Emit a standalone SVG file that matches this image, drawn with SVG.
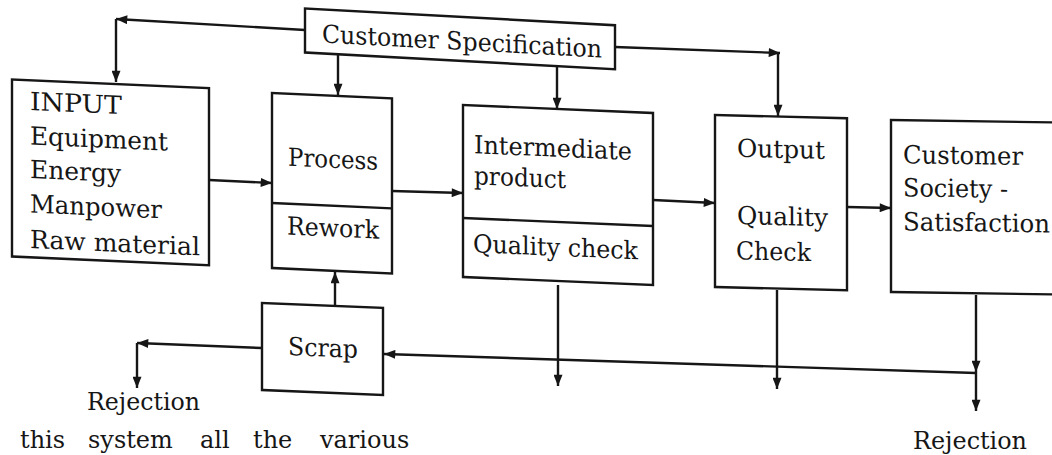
<svg xmlns="http://www.w3.org/2000/svg" width="1052" height="455" viewBox="0 0 1052 455">
<style>
.box{fill:none;stroke:#161616;stroke-width:2.4}
.ln{fill:none;stroke:#161616;stroke-width:2.4}
.t{font-family:"DejaVu Serif","Liberation Serif",serif;font-size:25px;fill:#161616}
.body{font-size:24px}
</style>
<defs>
<marker id="ah" viewBox="0 0 10 8" refX="10" refY="4" markerWidth="12" markerHeight="9" markerUnits="userSpaceOnUse" orient="auto">
<path d="M0,0 L10,4 L0,8 z" fill="#161616"/>
</marker>
</defs>
<rect width="1052" height="455" fill="#ffffff"/>

<g id="input" transform="matrix(1 0.044 0 1 0 -0.53)">
<rect class="box" x="12" y="79.5" width="197" height="177"/>
<text class="t" x="30" y="109.2" textLength="92" lengthAdjust="spacingAndGlyphs">INPUT</text>
<text class="t" x="30" y="143.7" textLength="138" lengthAdjust="spacingAndGlyphs">Equipment</text>
<text class="t" x="30" y="177.2">Energy</text>
<text class="t" x="30" y="211.7" textLength="132" lengthAdjust="spacingAndGlyphs">Manpower</text>
<text class="t" x="30" y="247.2" textLength="170" lengthAdjust="spacingAndGlyphs">Raw material</text>
</g>

<g id="spec" transform="matrix(1 0.054 0 1 0 -16.47)">
<rect class="box" x="305" y="8.5" width="310" height="44"/>
<text class="t" x="322" y="41.5" textLength="280" lengthAdjust="spacingAndGlyphs">Customer Specification</text>
</g>

<g id="process" transform="matrix(1 0.045 0 1 0 -12.24)">
<rect class="box" x="272" y="93" width="120" height="175"/>
<line class="ln" x1="272" y1="203" x2="392" y2="203"/>
<text class="t" x="288" y="165" textLength="90" lengthAdjust="spacingAndGlyphs">Process</text>
<text class="t" x="287" y="233.8" textLength="92" lengthAdjust="spacingAndGlyphs">Rework</text>
</g>

<g id="intermediate" transform="matrix(1 0.042 0 1 0 -19.45)">
<rect class="box" x="463" y="105" width="190" height="172"/>
<line class="ln" x1="463" y1="218" x2="653" y2="218"/>
<text class="t" x="474" y="152.8" textLength="158" lengthAdjust="spacingAndGlyphs">Intermediate</text>
<text class="t" x="474" y="183.8" textLength="92" lengthAdjust="spacingAndGlyphs">product</text>
<text class="t" x="473" y="251.9" textLength="165" lengthAdjust="spacingAndGlyphs">Quality check</text>
</g>

<g id="output" transform="matrix(1 0.025 0 1 0 -17.9)">
<rect class="box" x="715" y="115" width="132" height="172"/>
<text class="t" x="737" y="156.2" textLength="88" lengthAdjust="spacingAndGlyphs">Output</text>
<text class="t" x="737" y="223.5" textLength="91" lengthAdjust="spacingAndGlyphs">Quality</text>
<text class="t" x="736" y="258.8" textLength="75" lengthAdjust="spacingAndGlyphs">Check</text>
</g>

<g id="customer" transform="matrix(1 0.015 0 1 0 -13.37)">
<rect class="box" x="891" y="120" width="175" height="172"/>
<text class="t" x="903" y="163" textLength="120" lengthAdjust="spacingAndGlyphs">Customer</text>
<text class="t" x="903" y="196" textLength="105" lengthAdjust="spacingAndGlyphs">Society -</text>
<text class="t" x="903" y="230" textLength="147" lengthAdjust="spacingAndGlyphs">Satisfaction</text>
</g>

<g id="scrap" transform="matrix(1 0.041 0 1 0 -10.74)">
<rect class="box" x="262" y="303" width="121" height="87"/>
<text class="t" x="288" y="353.9" textLength="70" lengthAdjust="spacingAndGlyphs">Scrap</text>
</g>

<g id="rejection-left">
<text class="t" x="87" y="410" textLength="113" lengthAdjust="spacingAndGlyphs">Rejection</text>
</g>
<g id="rejection-right">
<text class="t" x="913" y="449" textLength="114" lengthAdjust="spacingAndGlyphs">Rejection</text>
</g>

<g id="connectors">
<line class="ln" x1="305" y1="30" x2="116" y2="19" marker-end="url(#ah)"/>
<line class="ln" x1="116" y1="19" x2="116" y2="82" marker-end="url(#ah)"/>
<line class="ln" x1="338" y1="54" x2="338" y2="95" marker-end="url(#ah)"/>
<line class="ln" x1="557" y1="66" x2="557" y2="109" marker-end="url(#ah)"/>
<line class="ln" x1="615" y1="47" x2="780" y2="53" marker-end="url(#ah)"/>
<line class="ln" x1="778" y1="53" x2="778" y2="116" marker-end="url(#ah)"/>
<line class="ln" x1="209" y1="180" x2="272" y2="183" marker-end="url(#ah)"/>
<line class="ln" x1="392" y1="191" x2="463" y2="193" marker-end="url(#ah)"/>
<line class="ln" x1="653" y1="200" x2="715" y2="203" marker-end="url(#ah)"/>
<line class="ln" x1="847" y1="207" x2="891" y2="208" marker-end="url(#ah)"/>
<line class="ln" x1="335" y1="306" x2="335" y2="272" marker-end="url(#ah)"/>
<line class="ln" x1="262" y1="348" x2="137" y2="343" marker-end="url(#ah)"/>
<line class="ln" x1="137" y1="343" x2="137" y2="388" marker-end="url(#ah)"/>
<line class="ln" x1="976" y1="373" x2="384" y2="354" marker-end="url(#ah)"/>
<line class="ln" x1="558" y1="285" x2="558" y2="386" marker-end="url(#ah)"/>
<line class="ln" x1="777" y1="290" x2="777" y2="389" marker-end="url(#ah)"/>
<line class="ln" x1="976" y1="295" x2="976" y2="372" marker-end="url(#ah)"/>
<line class="ln" x1="976" y1="372" x2="976" y2="411" marker-end="url(#ah)"/>
</g>

<text class="t body"><tspan x="20" y="448">this</tspan><tspan x="88" y="448">system</tspan><tspan x="200" y="448">all</tspan><tspan x="253" y="448">the</tspan><tspan x="320" y="448">various</tspan></text>
</svg>
